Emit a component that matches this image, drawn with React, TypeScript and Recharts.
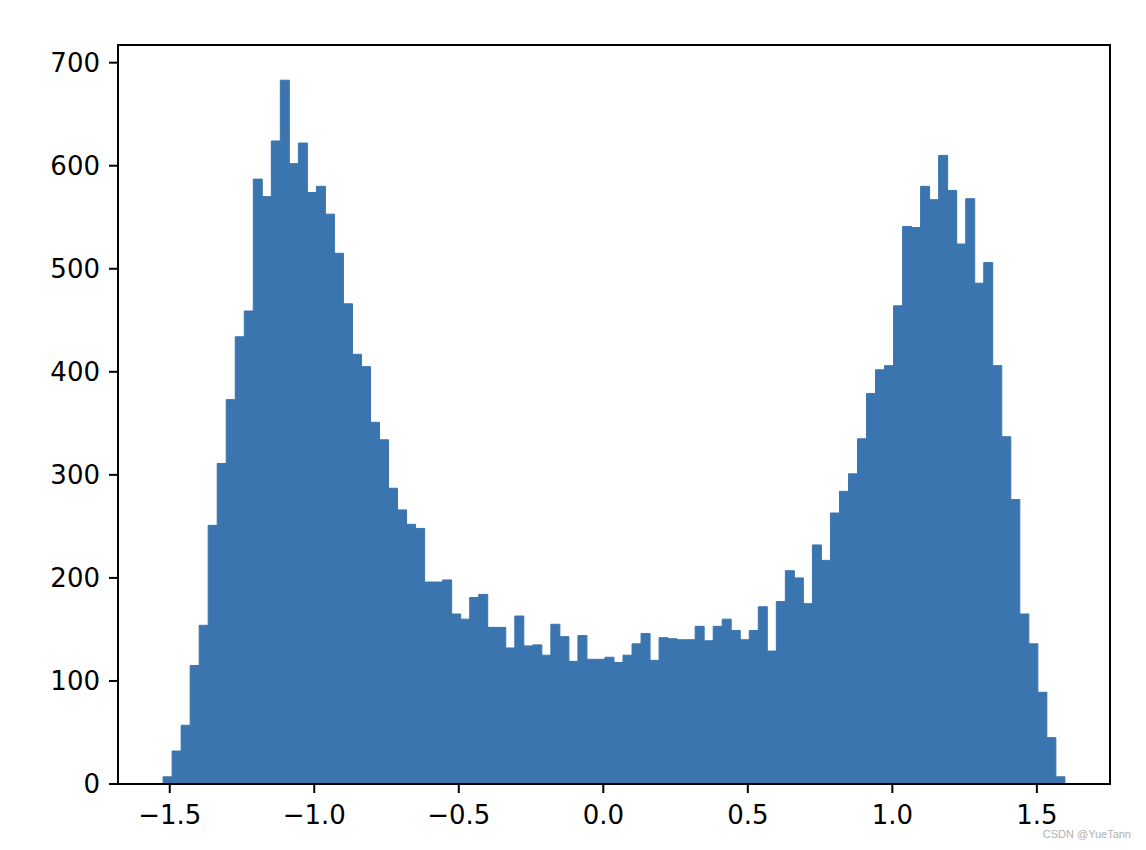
import { ComposedChart, Bar, XAxis, YAxis, ReferenceArea } from "recharts";

// histogram counts, 100 bins
const binCounts = [
    7, 32, 57, 115, 154, 251, 311, 373, 434, 459,
    587, 570, 624, 683, 602, 622, 574, 580, 553, 515,
    466, 417, 405, 351, 334, 287, 266, 252, 248, 196,
    196, 198, 165, 160, 181, 184, 152, 152, 132, 163,
    134, 135, 125, 155, 143, 119, 144, 121, 121, 123,
    118, 125, 136, 146, 120, 142, 141, 140, 140, 153,
    139, 153, 160, 149, 140, 149, 172, 129, 177, 207,
    200, 175, 232, 217, 263, 284, 301, 335, 379, 402,
    406, 464, 541, 540, 580, 567, 610, 576, 524, 568,
    486, 506, 406, 337, 276, 165, 136, 89, 45, 7
];
const binMin = -1.523;
const binMax = 1.597;
const xTicks = [-1.5, -1.0, -0.5, 0.0, 0.5, 1.0, 1.5];
const yTicks = [0, 100, 200, 300, 400, 500, 600, 700];

const binWidth = (binMax - binMin) / binCounts.length;
const data = binCounts.map((count, i) => ({ x: binMin + binWidth * (i + 0.5), count }));

const pad = 0.05 * (binMax - binMin);
const xDomain = [binMin - pad, binMax + pad];
const yDomain = [0, Math.max(...binCounts) * 1.05];

const fmtX = (v: number) => (v < 0 ? "\u2212" : "") + Math.abs(v).toFixed(1);
const tickStyle = { fontSize: 26, fill: "#000", fontFamily: "DejaVu Sans" };

export default function App() {
    return (
        <div style={{ position: "absolute", left: 0, top: 0, width: 1146, height: 850, background: "#fff" }}>
            <ComposedChart
                width={1146}
                height={850}
                data={data}
                margin={{ top: 45, right: 36, bottom: 0, left: 0 }}
                barCategoryGap={0}
                barGap={0}
            >
                <XAxis
                    type="number"
                    dataKey="x"
                    domain={xDomain}
                    allowDataOverflow
                    ticks={xTicks}
                    tickFormatter={fmtX}
                    height={66}
                    tickSize={9}
                    tickMargin={13}
                    tick={tickStyle}
                    axisLine={{ stroke: "#000", strokeWidth: 2 }}
                    tickLine={{ stroke: "#000", strokeWidth: 2 }}
                />
                <YAxis
                    type="number"
                    domain={yDomain}
                    allowDataOverflow
                    ticks={yTicks}
                    width={118}
                    tickSize={9}
                    tickMargin={9}
                    tick={tickStyle}
                    axisLine={{ stroke: "#000", strokeWidth: 2 }}
                    tickLine={{ stroke: "#000", strokeWidth: 2 }}
                />
                <Bar dataKey="count" fill="#3B75AF" stroke="#3B75AF" strokeWidth={1} isAnimationActive={false} />
                <ReferenceArea
                    x1={xDomain[0]}
                    x2={xDomain[1]}
                    y1={yDomain[0]}
                    y2={yDomain[1]}
                    fill="none"
                    stroke="#000"
                    strokeWidth={2}
                    ifOverflow="visible"
                />
            </ComposedChart>
            <div
                style={{
                    position: "absolute",
                    right: 15,
                    top: 828,
                    fontSize: 11,
                    color: "#b0b0b0",
                    fontFamily: "Liberation Sans, Arial, sans-serif",
                }}
            >
                CSDN @YueTann
            </div>
        </div>
    );
}
